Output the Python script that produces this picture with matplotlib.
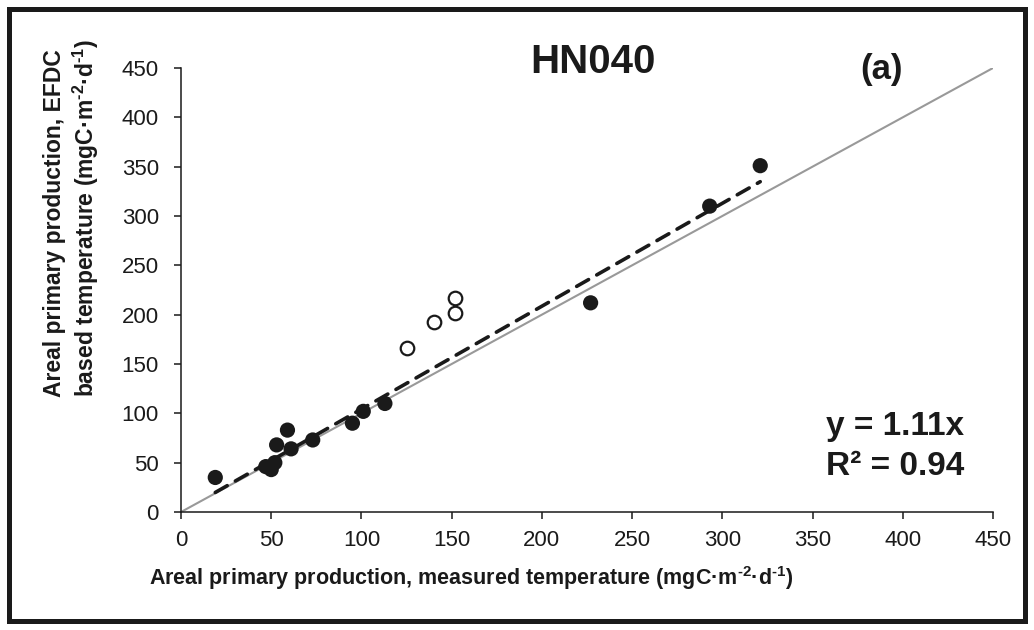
import matplotlib
matplotlib.use("Agg")
import matplotlib.pyplot as plt
import numpy as np
from matplotlib import patches

plt.rcParams["font.family"] = ["Liberation Sans", "DejaVu Sans"]
plt.rcParams["mathtext.fontset"] = "custom"
plt.rcParams["mathtext.rm"] = "Liberation Sans"
plt.rcParams["mathtext.bf"] = "Liberation Sans:bold"

# データ
filled_x = [19, 47, 50, 52, 53, 59, 61, 73, 95, 101, 113, 227, 293, 321]
filled_y = [35, 46, 43, 50, 68, 83, 64, 73, 90, 102, 110, 212, 310, 351]
open_x = [125, 140, 152, 152]
open_y = [166, 193, 202, 217]
ticks = [0, 50, 100, 150, 200, 250, 300, 350, 400, 450]

W, H = 1034, 630
fig = plt.figure(figsize=(W / 100, H / 100), dpi=100)
ax = fig.add_axes([181 / W, 118 / H, 812 / W, 444 / H])

# 1:1 線
ax.plot([0, 450], [0, 450], color="#999999", lw=1.5, zorder=1)

# 原点を通る回帰直線 (黒丸のみ)
fx = np.array(filled_x, dtype=float)
fy = np.array(filled_y, dtype=float)
slope = (fx * fy).sum() / (fx * fx).sum()
xs = np.array([fx.min(), fx.max()])
ax.plot(xs, slope * xs, color="#1a1a1a", lw=2.6, ls=(0, (3.8, 2.6)),
        dash_capstyle="round", zorder=2)

ax.scatter(filled_x, filled_y, s=120, color="#1a1a1a", edgecolors="none", zorder=3)
ax.scatter(open_x, open_y, s=95, facecolors="white", edgecolors="#1a1a1a",
           linewidths=1.6, zorder=3)

ax.set_xlim(0, 450)
ax.set_ylim(0, 450)
ax.set_xticks(ticks)
ax.set_yticks(ticks)
for s in ("top", "right"):
    ax.spines[s].set_visible(False)
for s in ("left", "bottom"):
    ax.spines[s].set_linewidth(1.1)
    ax.spines[s].set_color("#1a1a1a")
ax.tick_params(direction="out", length=5, width=1.1, colors="#1a1a1a",
               labelsize=16, pad=8)
ax.tick_params(axis="y", pad=11)

# テキスト
fig.text(593 / W, 1 - 73 / H, "HN040", fontsize=29, fontweight="bold",
         ha="center", va="baseline", color="#1a1a1a")
fig.text(881 / W, 1 - 79 / H, "(a)", fontsize=25, fontweight="bold",
         ha="center", va="baseline", color="#1a1a1a")
fig.text(964 / W, 1 - 435 / H, "y = 1.11x", fontsize=24, fontweight="bold",
         ha="right", va="baseline", color="#1a1a1a")
fig.text(964 / W, 1 - 475 / H, "R² = 0.94", fontsize=24, fontweight="bold",
         ha="right", va="baseline", color="#1a1a1a")

# 上付きはハイフン (U+2010) でマイナス記号より短く
unit = "(mgC·m$^{\\mathbf{\u20102}}$·d$^{\\mathbf{\u20101}}$)"
fig.text(149 / W, 1 - 585 / H,
         "Areal primary production, measured temperature " + unit,
         fontsize=15.5, fontweight="bold", ha="left", va="baseline", color="#1a1a1a")
fig.text(72 / W, 1 - 397 / H,
         "Areal primary production, EFDC\nbased temperature " + unit,
         fontsize=16.5, fontweight="bold", rotation=90, ha="center", va="bottom",
         multialignment="left", color="#1a1a1a")

# 外枠
frame = patches.Rectangle((8.5 / W, 9 / H), (1025 - 8.5) / W, (621 - 9) / H,
                          transform=fig.transFigure, fill=False,
                          edgecolor="#1a1a1a", lw=3.6)
fig.patches.append(frame)

fig.savefig("out.png", dpi=100)
